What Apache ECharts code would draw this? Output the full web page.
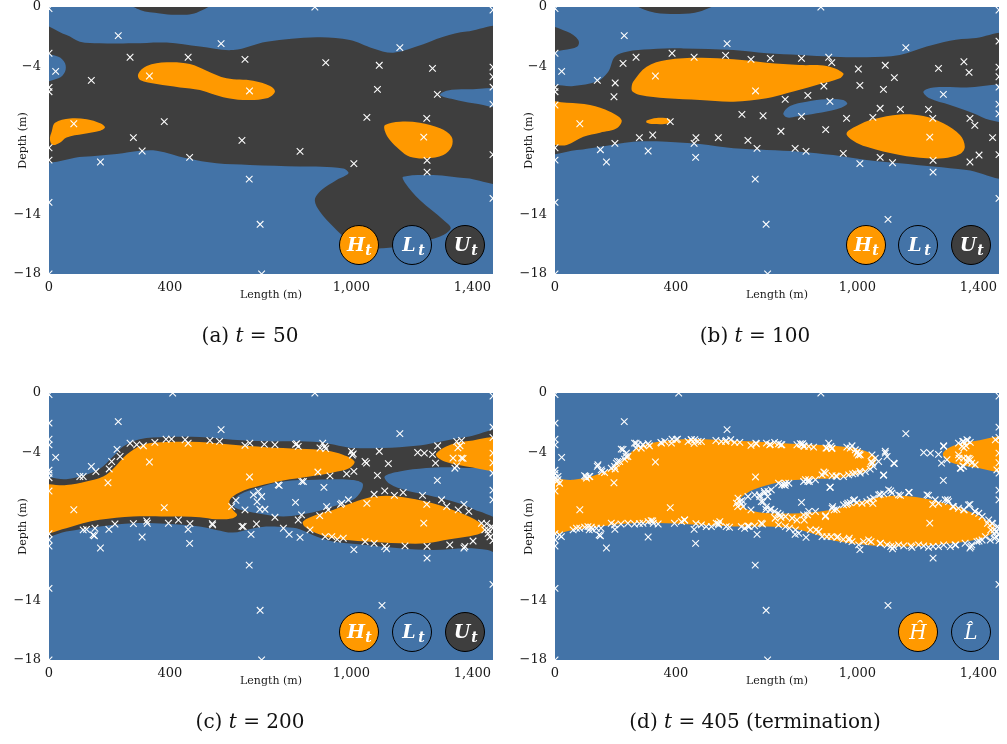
<!DOCTYPE html>
<html>
<head>
<meta charset="utf-8">
<script src="https://cdn.jsdelivr.net/npm/echarts@6/dist/echarts.min.js"></script>
<style>
html,body{margin:0;padding:0;background:#fff;}
#chart{width:1007px;height:744px;}
</style>
</head>
<body>
<div id="chart"></div>
<script>
// ---- axes ----
const xTicks = [0, 400, 1000, 1400];
const yTicks = [0, -4, -14, -18];
const lengthMax = 1468;
const depthMin = -18;
const captionLabels = ['(a)', '(b)', '(c)', '(d)'];
const captionSteps = ['50', '100', '200', '405 (termination)'];

// ---- sampled locations (length m, depth m), cumulative batches ----
const samples50 = [[0,-0.1],[879,0],[229,-1.93],[569,-2.47],[1160,-2.74],[0,-3.12],[268,-3.39],[460,-3.39],[648,-3.53],[915,-3.75],[1092,-3.93],[1268,-4.14],[22,-4.34],[332,-4.65],[140,-4.95],[0,-5.42],[0,-5.71],[663,-5.66],[1086,-5.55],[1284,-5.89],[1051,-7.44],[1249,-7.51],[82,-7.87],[381,-7.73],[279,-8.81],[1239,-8.77],[638,-8.99],[0,-9.49],[308,-9.71],[830,-9.73],[0,-10.32],[170,-10.45],[465,-10.14],[1250,-10.34],[1008,-10.56],[1250,-11.13],[662,-11.6],[0,-13.17],[698,-14.65],[703,-18],[0,-18],[1468,-0.2],[1468,-4.05],[1468,-4.7],[1468,-5.4],[1468,-9.95],[1468,-12.9],[1468,-6.55]];

const samples100 = [[387,-3.12],[564,-3.26],[712,-3.46],[815,-3.46],[905,-3.39],[225,-3.8],[1003,-4.18],[1122,-4.76],[1352,-3.69],[1369,-4.41],[199,-5.12],[195,-6.05],[1008,-5.28],[889,-5.33],[836,-5.96],[761,-6.23],[909,-6.36],[0,-6.61],[618,-7.24],[688,-7.33],[815,-7.37],[964,-7.51],[1075,-6.83],[1142,-6.9],[1235,-6.9],[1372,-7.51],[1388,-7.98],[1447,-8.81],[323,-8.63],[466,-8.81],[460,-9.19],[540,-8.81],[668,-9.53],[747,-8.38],[895,-8.27],[794,-9.53],[953,-9.87],[1075,-10.14],[1116,-10.5],[1372,-10.45],[1402,-9.98],[198,-9.19],[150,-9.62],[1101,-14.32],[1468,-2.3],[1468,-7.2]];

const samples200 = [[0,-2.03],[409,0],[102,-5.63],[113,-5.63],[155,-5.29],[207,-4.62],[235,-4.28],[290,-3.49],[312,-3.56],[350,-3.33],[405,-3.11],[450,-3.15],[532,-3.2],[664,-3.38],[604,-7.66],[648,-7.88],[676,-6.87],[692,-6.64],[703,-6.98],[697,-7.84],[714,-7.84],[113,-9.23],[124,-9.19],[152,-9.12],[146,-9.57],[218,-8.83],[325,-8.78],[395,-8.78],[428,-8.56],[541,-8.89],[642,-9.0],[686,-8.83],[747,-3.49],[819,-3.42],[824,-3.6],[912,-3.6],[896,-3.71],[1000,-3.94],[1006,-4.1],[1219,-4.01],[1241,-4.05],[1285,-3.56],[1348,-3.27],[1364,-3.2],[1359,-3.56],[1336,-4.39],[1364,-4.39],[1348,-4.91],[1342,-5.07],[1278,-4.73],[1045,-4.62],[1050,-4.73],[984,-5.45],[929,-5.59],[841,-5.97],[758,-6.19],[1110,-6.6],[1171,-6.71],[1298,-7.2],[1315,-7.65],[1353,-7.88],[1452,-9.23],[990,-7.2],[968,-7.43],[918,-7.66],[923,-7.88],[835,-8.22],[824,-8.56],[775,-9.12],[863,-9.23],[913,-9.68],[935,-9.68],[973,-9.79],[1045,-10.02],[1110,-10.35],[1177,-10.31],[1325,-10.24],[1375,-10.35],[1430,-8.78],[1441,-9.23],[1452,-9.46],[1463,-9.01],[0,-5.2],[0,-9.9],[0,-3.5],[1468,-9.1],[1468,-3.0],[1458,-9.7]];

const samples405 = [[263,-3.38],[274,-3.49],[291,-3.49],[308,-3.42],[269,-3.72],[285,-3.72],[219,-3.78],[236,-4.05],[241,-4.28],[230,-4.46],[214,-4.62],[203,-4.73],[197,-4.95],[186,-5.07],[142,-4.84],[153,-5.18],[164,-5.36],[98,-5.58],[104,-5.74],[115,-5.63],[10,-5.63],[10,-5.85],[15,-6.08],[5,-5.97],
[352,-3.38],[363,-3.27],[385,-3.38],[401,-3.15],[440,-3.27],[451,-3.15],[462,-3.15],[473,-3.27],[484,-3.27],[550,-3.27],[566,-3.2],[581,-3.15],[594,-3.33],[611,-3.33],[666,-3.42],[699,-3.38],[710,-3.49],[726,-3.33],
[605,-7.09],[611,-7.32],[616,-7.47],[600,-7.43],[622,-7.66],[638,-6.98],[660,-6.87],[677,-6.98],[693,-6.75],[704,-6.64],[715,-6.53],[682,-7.32],[699,-7.66],[710,-7.88],[726,-7.99],[737,-8.11],
[15,-9.57],[21,-9.68],[60,-9.23],[71,-9.12],[82,-9.12],[98,-9.05],[109,-9.01],[120,-9.05],[137,-9.12],[186,-8.78],[197,-8.89],[241,-8.78],[263,-8.83],[291,-8.78],[308,-8.67],[318,-8.6],[341,-8.83],[418,-8.67],[429,-8.56],[484,-8.89],[500,-9.01],[517,-9.01],[533,-8.78],[545,-8.67],[566,-9.01],[577,-9.05],[616,-9.01],[627,-9.12],[638,-8.96],[660,-8.96],[682,-8.78],
[739,-3.42],[750,-3.49],[800,-3.49],[811,-3.42],[822,-3.56],[839,-3.6],[855,-3.65],[899,-3.72],[916,-3.72],[965,-3.65],[976,-3.72],[982,-3.56],[993,-3.83],[998,-4.05],[1009,-4.17],[1048,-4.17],[1059,-4.39],[1070,-4.62],[1048,-4.73],[1053,-4.95],[1042,-5.13],[1026,-5.29],[1009,-5.4],[993,-5.4],[971,-5.52],[954,-5.63],[932,-5.63],[916,-5.58],[894,-5.4],[883,-5.52],[861,-5.85],[839,-5.85],[828,-5.85],[822,-5.97],[773,-6.08],[762,-6.08],[750,-6.19],[739,-6.08],[1092,-4.05],[1098,-4.28],[1120,-4.73],[1087,-5.52],[910,-6.35],
[1285,-3.6],[1296,-4.5],[1334,-3.38],[1351,-3.27],[1362,-3.15],[1373,-3.33],[1346,-3.6],[1334,-4.17],[1351,-4.39],[1362,-4.62],[1373,-4.5],[1378,-4.73],[1389,-4.84],[1351,-4.95],[1340,-5.07],[1456,-3.15],[1461,-5.18],
[728,-8.44],[745,-8.22],[762,-8.33],[784,-8.44],[800,-8.56],[822,-8.22],[839,-7.99],[861,-7.99],[894,-8.33],[916,-7.77],[932,-7.84],[954,-7.54],[976,-7.39],[987,-7.25],[998,-7.39],[1015,-7.43],[1031,-7.32],[1042,-7.2],[1053,-7.09],[1070,-6.87],[1087,-6.8],[1103,-6.53],[1114,-6.75],[1136,-6.87],[1169,-6.71],[1230,-6.87],[1257,-7.2],[1268,-7.43],[1290,-7.2],[1301,-7.32],[1318,-7.66],[1334,-7.77],[1351,-7.88],[1367,-7.54],[1389,-7.99],[1401,-8.11],[1412,-8.33],[1434,-8.56],[1445,-8.78],[1461,-9.34],[1467,-9.57],[1453,-9.79],[1439,-9.91],
[739,-8.89],[762,-9.01],[795,-9.23],[806,-9.46],[844,-9.23],[872,-9.34],[883,-9.68],[899,-9.68],[932,-9.73],[971,-9.91],[982,-10.02],[1004,-10.24],[1020,-10.02],[1037,-9.91],[1076,-10.13],[1098,-10.24],[1120,-10.35],[1136,-10.24],[1153,-10.31],[1180,-10.4],[1202,-10.24],[1219,-10.31],[1235,-10.4],[1268,-10.35],[1285,-10.24],[1307,-10.35],[1323,-10.24],[1356,-10.13],[1378,-10.24],[1395,-10.02],[1412,-9.91],[1423,-9.68]];

// ---- classified regions (boundary outlines, length m / depth m) ----
// t = 50
const uncertain50 = [
  [[240,0.6],[301,-0.2],[367,-0.43],[422,-0.52],[488,-0.38],[560,0.6]],
  [[-40,-1.3],[58,-1.89],[102,-2.34],[169,-2.45],[279,-2.45],[389,-2.4],[499,-2.67],[609,-2.9],[720,-2.34],[885,-2.04],[995,-2.22],[1072,-2.79],[1138,-3.08],[1215,-2.67],[1304,-2.0],[1381,-1.66],[1510,-1.55],[1510,-11.66],[1381,-11.55],[1271,-11.33],[1171,-11.44],[1177,-11.84],[1226,-13.01],[1304,-14.36],[1328,-14.92],[1293,-15.48],[1215,-15.89],[1105,-16.27],[1050,-16.16],[984,-15.6],[940,-14.81],[896,-13.8],[879,-13.01],[901,-12.34],[951,-11.66],[990,-11.21],[973,-10.88],[830,-10.76],[664,-10.65],[554,-10.54],[455,-10.2],[356,-9.69],[301,-9.69],[224,-9.91],[113,-10.09],[-40,-10.15]]
];
const low50 = [
  [[-40,-3.2],[31,-3.35],[53,-3.8],[53,-4.36],[31,-4.81],[-40,-5.0]],
  [[1510,-5.6],[1381,-5.55],[1315,-5.64],[1293,-5.93],[1337,-6.22],[1403,-6.49],[1510,-6.72]]
];
const high50 = [
  [[295,-4.52],[323,-3.98],[389,-3.73],[466,-3.84],[521,-4.29],[587,-4.81],[675,-4.97],[731,-5.33],[747,-5.71],[720,-6.16],[642,-6.27],[576,-6.09],[499,-5.6],[433,-5.42],[356,-5.19],[301,-4.92]],
  [[20,-7.8],[69,-7.51],[125,-7.57],[169,-7.84],[185,-8.11],[169,-8.34],[113,-8.56],[58,-8.79],[36,-9.15],[12,-9.3],[3,-8.92],[9,-8.4]],
  [[1111,-7.96],[1160,-7.73],[1226,-7.8],[1293,-8.18],[1331,-8.74],[1331,-9.42],[1304,-9.98],[1248,-10.2],[1193,-10.09],[1160,-9.64],[1127,-8.97],[1111,-8.4]]
];

// t = 100
const uncertain100 = [
  [[235,0.6],[314,-0.31],[402,-0.47],[479,-0.31],[560,0.6]],
  [[-40,-1.3],[39,-1.66],[77,-2.22],[74,-2.67],[28,-2.9],[-40,-3.01]],
  [[-40,-5.48],[61,-5.33],[138,-5.03],[176,-4.36],[198,-3.35],[237,-3.01],[314,-2.85],[424,-2.79],[590,-2.9],[700,-3.12],[810,-3.24],[920,-3.35],[1030,-3.39],[1140,-3.24],[1229,-2.67],[1306,-2.27],[1383,-2.11],[1510,-2.0],[1510,-11.33],[1361,-10.99],[1251,-10.76],[1140,-10.54],[1030,-10.31],[920,-9.98],[810,-9.75],[700,-9.64],[590,-9.53],[479,-9.24],[369,-9.08],[259,-9.08],[149,-9.42],[72,-9.64],[-40,-9.75]]
];
const low100 = [
  [[755,-7.17],[777,-6.67],[832,-6.38],[898,-6.22],[953,-6.27],[966,-6.54],[931,-6.9],[865,-7.17],[799,-7.39],[766,-7.44]],
  [[1510,-5.42],[1361,-5.42],[1251,-5.42],[1218,-5.71],[1238,-6.16],[1306,-6.61],[1383,-7.17],[1438,-7.62],[1510,-7.66]]
];
const high100 = [
  [[253,-5.48],[259,-5.03],[303,-4.02],[369,-3.57],[479,-3.42],[590,-3.53],[700,-3.75],[810,-3.91],[898,-3.98],[953,-4.47],[942,-4.81],[865,-5.26],[766,-5.82],[700,-6.16],[590,-6.38],[479,-6.27],[369,-6.16],[281,-5.93],[257,-5.71]],
  [[-40,-6.49],[39,-6.45],[116,-6.61],[182,-7.06],[220,-7.62],[204,-8.18],[149,-8.47],[94,-8.74],[39,-9.3],[6,-9.3],[-40,-8.97]],
  [[303,-7.66],[336,-7.48],[380,-7.57],[375,-7.84],[325,-7.89],[303,-7.8]],
  [[964,-8.52],[997,-8.02],[1052,-7.57],[1140,-7.24],[1218,-7.35],[1284,-7.84],[1339,-8.63],[1355,-9.42],[1339,-9.91],[1284,-10.2],[1229,-10.2],[1140,-9.98],[1030,-9.42],[986,-9.01]]
];

// t = 200
const uncertain200 = [
  [[-40,-5.85],[57,-5.81],[123,-5.51],[167,-5.13],[212,-4.28],[245,-3.6],[300,-3.11],[388,-2.97],[498,-2.97],[608,-3.15],[718,-3.26],[829,-3.26],[917,-3.38],[972,-3.6],[1005,-3.71],[1104,-3.71],[1214,-3.56],[1280,-3.33],[1380,-2.97],[1510,-2.7],[1510,-10.95],[1451,-10.58],[1380,-10.46],[1269,-10.58],[1159,-10.46],[1049,-10.24],[939,-10.01],[884,-9.68],[829,-9.18],[785,-9.05],[718,-9.0],[663,-9.18],[608,-9.41],[553,-9.23],[498,-9.0],[388,-8.82],[278,-8.78],[167,-9.0],[57,-9.34],[-40,-9.7]]
];
const low200 = [
  [[608,-7.47],[630,-6.86],[696,-6.35],[774,-5.96],[884,-5.85],[994,-5.85],[1036,-6.08],[1033,-6.57],[1005,-7.2],[939,-7.65],[884,-7.99],[829,-8.21],[774,-8.33],[718,-8.21],[658,-7.99],[617,-7.76]],
  [[1110,-5.63],[1159,-5.29],[1247,-5.06],[1313,-5.0],[1380,-5.06],[1510,-5.22],[1510,-8.4],[1424,-7.99],[1380,-7.61],[1325,-7.25],[1247,-6.86],[1181,-6.57],[1126,-6.12]]
];
const high200 = [
  [[-40,-6.35],[57,-6.21],[123,-5.96],[179,-5.63],[217,-5.0],[256,-4.16],[311,-3.49],[388,-3.31],[498,-3.31],[608,-3.49],[718,-3.65],[829,-3.76],[917,-3.87],[972,-4.16],[1010,-4.61],[994,-5.06],[939,-5.36],[862,-5.63],[774,-5.9],[696,-6.26],[630,-6.71],[597,-7.25],[606,-7.83],[622,-8.21],[608,-8.44],[553,-8.51],[498,-8.37],[388,-8.33],[278,-8.33],[167,-8.55],[112,-8.78],[57,-9.11],[-40,-9.41]],
  [[840,-8.66],[884,-8.21],[939,-7.88],[994,-7.47],[1049,-7.09],[1115,-6.93],[1192,-7.09],[1269,-7.43],[1358,-8.06],[1424,-8.73],[1440,-9.23],[1413,-9.56],[1325,-9.86],[1247,-10.13],[1159,-10.13],[1049,-10.01],[939,-9.79],[884,-9.45],[845,-9.0]],
  [[1280,-4.1],[1313,-3.6],[1380,-3.26],[1510,-3.1],[1510,-5.15],[1380,-4.95],[1313,-4.66],[1286,-4.37]]
];

// t = 405 (final classification)
const uncertain405 = [];
const low405 = [];
const high405 = [
  [[-40,-5.96],[61,-5.85],[127,-5.58],[182,-5.13],[226,-4.46],[270,-3.71],[314,-3.38],[424,-3.11],[534,-3.15],[645,-3.26],[755,-3.38],[865,-3.49],[975,-3.67],[1030,-3.94],[1063,-4.39],[1047,-5.0],[997,-5.51],[920,-5.74],[832,-5.81],[755,-5.96],[678,-6.35],[634,-6.75],[609,-7.25],[623,-7.7],[661,-7.99],[711,-8.1],[810,-8.1],[876,-7.99],[942,-7.76],[1008,-7.31],[1085,-6.98],[1140,-6.93],[1218,-7.09],[1306,-7.54],[1383,-8.1],[1438,-8.73],[1455,-9.18],[1427,-9.68],[1361,-10.01],[1251,-10.24],[1140,-10.35],[1030,-10.24],[920,-9.95],[865,-9.56],[810,-9.23],[755,-9.05],[645,-9.0],[590,-9.0],[479,-8.89],[369,-8.78],[259,-8.78],[149,-9.0],[61,-9.23],[-40,-9.45]],
  [[1284,-4.01],[1317,-3.56],[1383,-3.26],[1510,-3.04],[1510,-5.22],[1383,-5.0],[1317,-4.73],[1287,-4.39]]
];

// ---- styling ----
const BLUE = '#4373a7';
const DARK = '#3e3e3e';
const ORANGE = '#ff9900';
const FONT = 'DejaVu Serif';
const TEXT = '#1a1a1a';

const grids = [
  { left: 49, top: 7, width: 444, height: 267 },
  { left: 555, top: 7, width: 444, height: 267 },
  { left: 49, top: 393, width: 444, height: 267 },
  { left: 555, top: 393, width: 444, height: 267 }
];

const panelSamples = [
  samples50,
  samples50.concat(samples100),
  samples50.concat(samples100, samples200),
  samples50.concat(samples100, samples200, samples405)
];
const panelUncertain = [uncertain50, uncertain100, uncertain200, uncertain405];
const panelLow = [low50, low100, low200, low405];
const panelHigh = [high50, high100, high200, high405];

function regionSeries(idx, shapes, fill) {
  return {
    type: 'custom', xAxisIndex: idx, yAxisIndex: idx, clip: true, silent: true,
    data: shapes.map((s, i) => [i]),
    renderItem: function (params, api) {
      const pts = shapes[params.dataIndex].map(p => api.coord(p));
      return { type: 'polygon', shape: { points: pts, smooth: 0.35 }, style: { fill: fill } };
    }
  };
}

function sampleSeries(idx, pts) {
  return {
    type: 'custom', xAxisIndex: idx, yAxisIndex: idx, clip: true, silent: true,
    data: pts,
    renderItem: function (params, api) {
      const c = api.coord([api.value(0), api.value(1)]);
      const r = 3.3;
      const st = { stroke: '#ffffff', lineWidth: 1.1 };
      return {
        type: 'group', children: [
          { type: 'line', shape: { x1: c[0] - r, y1: c[1] - r, x2: c[0] + r, y2: c[1] + r }, style: st },
          { type: 'line', shape: { x1: c[0] - r, y1: c[1] + r, x2: c[0] + r, y2: c[1] - r }, style: st }
        ]
      };
    }
  };
}

const series = [];
for (let i = 0; i < 4; i++) {
  series.push(regionSeries(i, panelUncertain[i], DARK));
  series.push(regionSeries(i, panelLow[i], BLUE));
  series.push(regionSeries(i, panelHigh[i], ORANGE));
  series.push(sampleSeries(i, panelSamples[i]));
}

const xAxes = grids.map((g, i) => ({
  gridIndex: i, type: 'value', min: 0, max: lengthMax,
  name: 'Length (m)', nameLocation: 'middle', nameGap: 16, nameMoveOverlap: false,
  nameTextStyle: { fontFamily: FONT, fontSize: 11, color: TEXT },
  axisLine: { show: false }, axisTick: { show: false }, splitLine: { show: false },
  axisLabel: {
    customValues: xTicks, margin: 7, fontFamily: FONT, fontSize: 13, color: TEXT,
    formatter: v => Number(v).toLocaleString('en-US')
  }
}));
const yAxes = grids.map((g, i) => ({
  gridIndex: i, type: 'value', min: depthMin, max: 0,
  name: 'Depth (m)', nameLocation: 'middle', nameGap: 20, nameRotate: 90, nameMoveOverlap: false,
  nameTextStyle: { fontFamily: FONT, fontSize: 11, color: TEXT },
  axisLine: { show: false }, axisTick: { show: false }, splitLine: { show: false },
  axisLabel: {
    customValues: yTicks, margin: 8, fontFamily: FONT, fontSize: 13, color: TEXT,
    formatter: v => String(v).replace('-', '\u2212')
  }
}));

// legend badges inside each panel
function badge(cx, cy, fill, main, sub, bold) {
  const w = bold ? 'bold' : 'normal';
  const items = [
    { type: 'circle', z: 100, silent: true, shape: { cx: cx, cy: cy, r: 19.5 }, style: { fill: fill, stroke: '#000', lineWidth: 1 } }
  ];
  if (sub) {
    items.push({ type: 'text', z: 101, silent: true, style: { x: cx - 3, y: cy + 1, text: main, fill: '#fff', align: 'center', verticalAlign: 'middle',
      font: 'italic ' + w + ' 19px "' + FONT + '"' } });
    items.push({ type: 'text', z: 101, silent: true, style: { x: cx + 9.5, y: cy + 6, text: sub, fill: '#fff', align: 'center', verticalAlign: 'middle',
      font: 'italic ' + w + ' 14px "' + FONT + '"' } });
  } else {
    items.push({ type: 'text', z: 101, silent: true, style: { x: cx, y: cy + 2, text: main, fill: '#fff', align: 'center', verticalAlign: 'middle',
      font: 'italic ' + w + ' 20px "' + FONT + '"' } });
  }
  return items;
}

const graphics = [].concat(
  badge(359, 245, ORANGE, 'H', 't', true), badge(412, 245, BLUE, 'L', 't', true), badge(465, 245, DARK, 'U', 't', true),
  badge(866, 245, ORANGE, 'H', 't', true), badge(918, 245, BLUE, 'L', 't', true), badge(971, 245, DARK, 'U', 't', true),
  badge(359, 632, ORANGE, 'H', 't', true), badge(412, 632, BLUE, 'L', 't', true), badge(465, 632, DARK, 'U', 't', true),
  badge(918, 632, ORANGE, '\u0124', null, false), badge(971, 632, BLUE, 'L\u0302', null, false)
);

const captionPos = [[250, 337], [755, 337], [250, 723], [755, 723]];
captionPos.forEach((p, i) => {
  graphics.push({
    type: 'text', silent: true, z: 100,
    style: {
      x: p[0], y: p[1], align: 'center', verticalAlign: 'middle', fill: '#111',
      text: captionLabels[i] + ' {i|t} = ' + captionSteps[i],
      font: '20px "' + FONT + '"',
      rich: { i: { fontFamily: FONT, fontSize: 20, fontStyle: 'italic', fill: '#111' } }
    }
  });
});

const chart = echarts.init(document.getElementById('chart'), null, { renderer: 'canvas' });
chart.setOption({
  animation: false,
  backgroundColor: '#ffffff',
  grid: grids.map(g => Object.assign({ show: true, backgroundColor: BLUE, borderWidth: 0 }, g)),
  xAxis: xAxes,
  yAxis: yAxes,
  series: series,
  graphic: graphics
});
</script>
</body>
</html>
